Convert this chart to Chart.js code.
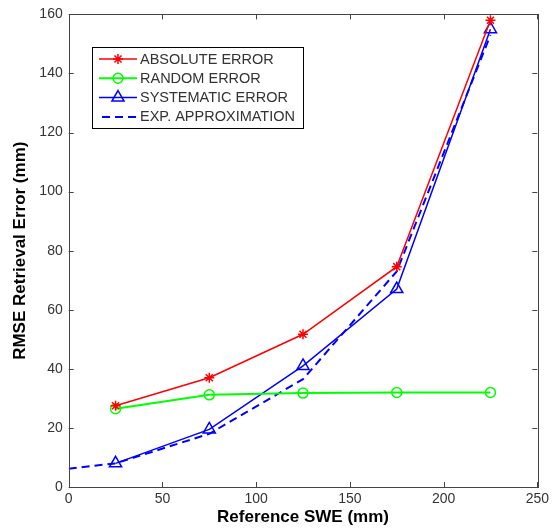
<!DOCTYPE html>
<html lang="en">
<head>
    <meta charset="UTF-8">
    <title>RMSE Retrieval Error vs Reference SWE</title>
    <script src="https://cdn.jsdelivr.net/npm/chart.js"></script>
    <style>
        html, body { margin: 0; padding: 0; background: #fff; }
        .chart-container { position: relative; width: 553px; height: 531px; }
    </style>
</head>
<body>
    <div class="chart-container">
        <canvas id="rmseChart" width="553" height="531"></canvas>
    </div>

    <script>
        // values
        const sweBins = [25, 75, 125, 175, 225];
        const absoluteError = [27.5, 37, 51.7, 74.6, 158];
        const randomError = [26.5, 31.2, 31.8, 32, 32];
        const systematicError = [8, 19.5, 41, 67, 155];
        const expSwe = [0, 25, 75, 125, 175, 225];
        const expApprox = [6.2, 8, 18, 36.5, 73, 153];
        const xTicks = [0, 50, 100, 150, 200, 250];
        const yTicks = [0, 20, 40, 60, 80, 100, 120, 140, 160];

        const FONT = "'Liberation Sans', Arial, sans-serif";
        const TEXT = '#333';

        function pts(xs, ys) {
            return xs.map((x, i) => ({ x: x, y: ys[i] }));
        }

        // MATLAB style box with inward ticks
        const boxAxes = {
            id: 'boxAxes',
            afterDraw(chart) {
                const { ctx, chartArea: a } = chart;
                const xs = chart.scales.x, ys = chart.scales.y;
                const len = 5;
                ctx.save();
                ctx.strokeStyle = '#444';
                ctx.lineWidth = 1;
                ctx.strokeRect(Math.round(a.left) + 0.5, Math.round(a.top) + 0.5,
                    Math.round(a.right - a.left), Math.round(a.bottom - a.top));
                ctx.beginPath();
                xs.ticks.forEach(t => {
                    const px = Math.round(xs.getPixelForValue(t.value)) + 0.5;
                    ctx.moveTo(px, a.bottom); ctx.lineTo(px, a.bottom - len);
                    ctx.moveTo(px, a.top); ctx.lineTo(px, a.top + len);
                });
                ys.ticks.forEach(t => {
                    const py = Math.round(ys.getPixelForValue(t.value)) + 0.5;
                    ctx.moveTo(a.left, py); ctx.lineTo(a.left + len, py);
                    ctx.moveTo(a.right, py); ctx.lineTo(a.right - len, py);
                });
                ctx.stroke();
                ctx.restore();
            }
        };

        // legend box inside the plot, upper left
        const boxLegend = {
            id: 'boxLegend',
            afterDraw(chart) {
                const ctx = chart.ctx;
                const x0 = 92, y0 = 47, w = 211, h = 81;
                ctx.save();
                ctx.fillStyle = '#fff';
                ctx.fillRect(x0, y0, w, h);
                ctx.strokeStyle = '#000';
                ctx.lineWidth = 1;
                ctx.strokeRect(x0 + 0.5, y0 + 0.5, w, h);
                chart.data.datasets.forEach((ds, i) => {
                    const y = 59 + i * 19.3;
                    ctx.strokeStyle = ds.borderColor;
                    ctx.lineWidth = ds.borderWidth;
                    ctx.setLineDash(ds.borderDash || []);
                    ctx.beginPath();
                    ctx.moveTo(ds.borderDash ? 102 : 99, y);
                    ctx.lineTo(137, y);
                    ctx.stroke();
                    ctx.setLineDash([]);
                    if (ds.pointRadius > 0) {
                        ctx.strokeStyle = ds.borderColor;
                        ctx.fillStyle = 'rgba(0,0,0,0)';
                        ctx.lineWidth = ds.pointBorderWidth;
                        Chart.helpers.drawPoint(ctx, {
                            pointStyle: ds.pointStyle,
                            radius: ds.pointRadius,
                            borderWidth: ds.pointBorderWidth,
                            rotation: 0
                        }, 118, y);
                    }
                    ctx.fillStyle = TEXT;
                    ctx.font = '14.5px ' + FONT;
                    ctx.textBaseline = 'middle';
                    ctx.fillText(ds.label, 140, y + 0.5);
                });
                ctx.restore();
            }
        };

        new Chart(document.getElementById('rmseChart'), {
            type: 'line',
            data: {
                datasets: [{
                    label: 'ABSOLUTE ERROR',
                    data: pts(sweBins, absoluteError),
                    borderColor: '#ff0000',
                    borderWidth: 1.5,
                    pointStyle: 'star',
                    pointRadius: 5,
                    pointBorderWidth: 1.5,
                    pointBackgroundColor: 'rgba(0,0,0,0)'
                }, {
                    label: 'RANDOM ERROR',
                    data: pts(sweBins, randomError),
                    borderColor: '#00ff00',
                    borderWidth: 2,
                    pointStyle: 'circle',
                    pointRadius: 5,
                    pointBorderWidth: 1.5,
                    pointBackgroundColor: 'rgba(0,0,0,0)'
                }, {
                    label: 'SYSTEMATIC ERROR',
                    data: pts(sweBins, systematicError),
                    borderColor: '#0000ff',
                    borderWidth: 1.5,
                    pointStyle: 'triangle',
                    pointRadius: 7,
                    pointBorderWidth: 1.5,
                    pointBackgroundColor: 'rgba(0,0,0,0)'
                }, {
                    label: 'EXP. APPROXIMATION',
                    data: pts(expSwe, expApprox),
                    borderColor: '#0000ff',
                    borderWidth: 2,
                    borderDash: [8, 5],
                    pointRadius: 0,
                    pointBorderWidth: 0
                }]
            },
            options: {
                responsive: false,
                animation: false,
                maintainAspectRatio: false,
                layout: { padding: { left: 0, right: 11, top: 14, bottom: 0 } },
                elements: { line: { tension: 0 } },
                plugins: {
                    legend: { display: false },
                    tooltip: { enabled: false }
                },
                scales: {
                    x: {
                        type: 'linear',
                        min: xTicks[0],
                        max: xTicks[xTicks.length - 1],
                        afterBuildTicks: s => { s.ticks = xTicks.map(v => ({ value: v })); },
                        afterFit: s => { s.height = 44; },
                        grid: { display: false, drawTicks: false },
                        border: { display: false },
                        ticks: { padding: 4, color: TEXT, font: { family: FONT, size: 14 }, maxRotation: 0 },
                        title: {
                            display: true,
                            text: 'Reference SWE (mm)',
                            color: '#000',
                            font: { family: FONT, size: 17, weight: 'bold' },
                            padding: { top: 0, bottom: 3 }
                        }
                    },
                    y: {
                        type: 'linear',
                        min: yTicks[0],
                        max: yTicks[yTicks.length - 1],
                        afterBuildTicks: s => { s.ticks = yTicks.map(v => ({ value: v })); },
                        afterFit: s => { s.width = 68.7; },
                        grid: { display: false, drawTicks: false },
                        border: { display: false },
                        ticks: { padding: 6, color: TEXT, font: { family: FONT, size: 14 } },
                        title: {
                            display: true,
                            text: 'RMSE Retrieval Error (mm)',
                            color: '#000',
                            font: { family: FONT, size: 17, weight: 'bold' },
                            padding: { top: 10, bottom: 0 }
                        }
                    }
                }
            },
            plugins: [boxAxes, boxLegend]
        });
    </script>
</body>
</html>
